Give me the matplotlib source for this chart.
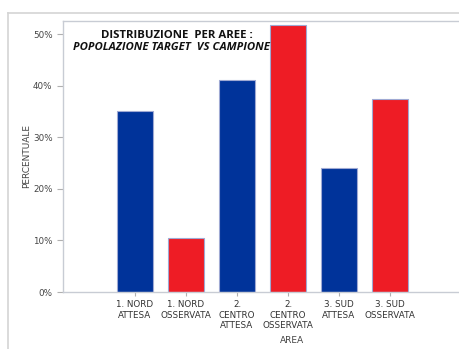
import matplotlib
matplotlib.use("Agg")
import matplotlib.pyplot as plt
from matplotlib.lines import Line2D
from matplotlib.ticker import FuncFormatter

categories = ["1. NORD\nATTESA", "1. NORD\nOSSERVATA", "2.\nCENTRO\nATTESA",
              "2.\nCENTRO\nOSSERVATA", "3. SUD\nATTESA", "3. SUD\nOSSERVATA"]
values = [35.0, 10.5, 41.0, 51.8, 24.0, 37.4]
series_colors = ["#00339A", "#EE1C25", "#00339A", "#EE1C25", "#00339A", "#EE1C25"]
y_ticks = [0, 10, 20, 30, 40, 50]

W, H = 459, 349
fig = plt.figure(figsize=(W / 100, H / 100), dpi=100)
fig.patch.set_facecolor("white")

# outer frame lines
fig.add_artist(Line2D([8 / W, 1], [1 - 13 / H, 1 - 13 / H], color="#d4d4d4", lw=1.2))
fig.add_artist(Line2D([8 / W, 8 / W], [0, 1 - 13 / H], color="#d4d4d4", lw=1.2))

left, right, top, bottom = 63, 520, 21, 292
ax = fig.add_axes([left / W, 1 - bottom / H, (right - left) / W, (bottom - top) / H])

x = list(range(len(categories)))
ax.bar(x, values, width=0.70, color=series_colors, edgecolor="#9fa9d3", linewidth=0.8, zorder=2)

px_per_cat = 51.0
x0 = -(135 - left) / px_per_cat
ax.set_xlim(x0, x0 + (right - left) / px_per_cat)
# 0% at y=292, 50% at y=34
px_per_pct = (292 - 34) / 50.0
ax.set_ylim(0, (bottom - top) / px_per_pct)

ax.set_yticks(y_ticks)
ax.yaxis.set_major_formatter(FuncFormatter(lambda v, p: f"{int(v)}%"))
ax.set_xticks(x)
ax.set_xticklabels(categories, fontsize=6.3, color="#333333", linespacing=1.2)
ax.tick_params(axis="y", labelsize=6.3, labelcolor="#444444", color="#b0b0b0", length=4, width=0.8)
ax.tick_params(axis="x", color="#b0b0b0", length=3, width=0.8, pad=3)

for s in ["left", "top", "bottom"]:
    ax.spines[s].set_color("#c8ccd4")
    ax.spines[s].set_linewidth(1.0)
ax.spines["right"].set_visible(False)

ax.set_ylabel("PERCENTUALE", fontsize=6.5, color="#444444", labelpad=1)
ax.set_xlabel("AREA", fontsize=6.5, color="#444444", labelpad=4)

fig.text(177 / W, 1 - 35 / H, "DISTRIBUZIONE  PER AREE :", fontsize=8.2,
         fontweight="bold", ha="center", va="center", color="#111111", family="Open Sans")
fig.text(73 / W, 1 - 47 / H, "POPOLAZIONE TARGET  VS CAMPIONE", fontsize=8.2,
         fontweight="bold", style="italic", ha="left", va="center", color="#111111",
         family="Open Sans")

fig.savefig("out.png", dpi=100, facecolor="white")
